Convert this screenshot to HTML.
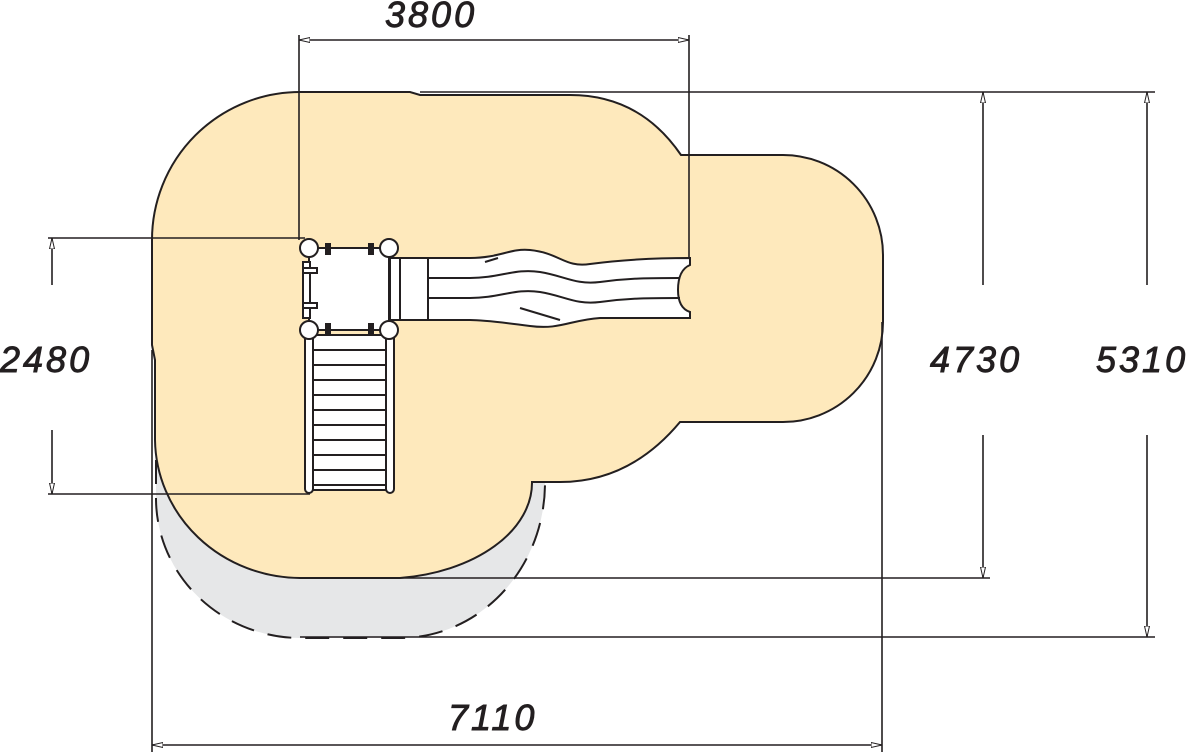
<!DOCTYPE html>
<html><head><meta charset="utf-8"><style>
html,body{margin:0;padding:0;background:#fff;}
svg{display:block;}
text{font-family:"Liberation Sans",sans-serif;font-style:italic;font-size:36px;fill:#231f20;stroke:#231f20;stroke-width:0.9;letter-spacing:3px;}
</style></head><body>
<svg width="1200" height="752" viewBox="0 0 1200 752" xmlns="http://www.w3.org/2000/svg">
<defs>
<marker id="a" markerWidth="12" markerHeight="8" refX="11" refY="4" orient="auto-start-reverse" markerUnits="userSpaceOnUse">
<path d="M0,1.5 L11,4 L0,6.5 Z" fill="#fff" stroke="#231f20" stroke-width="1"/>
</marker>
</defs>
<!-- gray zone -->
<path d="M156,455 L156,500 A145,140 0 0 0 300,638 L400,638 A145,155 0 0 0 545,482 L545,480 L156,440 Z" fill="#e6e7e8"/>
<path d="M156,460 L156,500 A145,140 0 0 0 300,638 L400,638 A145,155 0 0 0 545,482" fill="none" stroke="#231f20" stroke-width="2" stroke-dasharray="24,14"/>
<!-- main area -->
<path d="M300,92 L410,92 L420,95 L570,95 Q640,95 681,155 L782,155 A100,100 0 0 1 883,255 L883,322 A100,100 0 0 1 782,422 L680,422 Q630,482 560,482 L532,482 A150,96 0 0 1 400,578 L300,578 A146,140 0 0 1 155,440 L155,360 L152,345 L152,240 A148,148 0 0 1 300,92 Z" fill="#fee9bc" stroke="#231f20" stroke-width="2"/>
<!-- dimension lines -->
<g stroke="#231f20" stroke-width="1.6" fill="none">
<line x1="299" y1="35" x2="299" y2="240"/>
<line x1="689" y1="35" x2="689" y2="262"/>
<line x1="299" y1="40" x2="689" y2="40" marker-start="url(#a)" marker-end="url(#a)"/>
<line x1="420" y1="92" x2="1155" y2="92"/>
<line x1="400" y1="578" x2="990" y2="578"/>
<line x1="300" y1="637" x2="1155" y2="637"/>
<line x1="983" y1="92" x2="983" y2="285" marker-start="url(#a)"/>
<line x1="983" y1="435" x2="983" y2="578" marker-end="url(#a)"/>
<line x1="1147" y1="92" x2="1147" y2="285" marker-start="url(#a)"/>
<line x1="1147" y1="435" x2="1147" y2="637" marker-end="url(#a)"/>
<line x1="48" y1="238" x2="305" y2="238"/>
<line x1="48" y1="494" x2="310" y2="494"/>
<line x1="52" y1="238" x2="52" y2="285" marker-start="url(#a)"/>
<line x1="52" y1="430" x2="52" y2="494" marker-end="url(#a)"/>
<line x1="152" y1="350" x2="152" y2="752"/>
<line x1="882" y1="322" x2="882" y2="752"/>
<line x1="152" y1="745" x2="882" y2="745" marker-start="url(#a)" marker-end="url(#a)"/>
</g>
<!-- ladder -->
<g stroke="#231f20" stroke-width="2" fill="#fff">
<rect x="312" y="335" width="76" height="155"/>
<rect x="305" y="330" width="8" height="163" rx="4"/>
<rect x="386" y="330" width="8" height="163" rx="4"/>
<line x1="313" y1="350" x2="386" y2="350"/>
<line x1="313" y1="365" x2="386" y2="365"/>
<line x1="313" y1="380" x2="386" y2="380"/>
<line x1="313" y1="395" x2="386" y2="395"/>
<line x1="313" y1="410" x2="386" y2="410"/>
<line x1="313" y1="425" x2="386" y2="425"/>
<line x1="313" y1="440" x2="386" y2="440"/>
<line x1="313" y1="455" x2="386" y2="455"/>
<line x1="313" y1="470" x2="386" y2="470"/>
<line x1="313" y1="485" x2="386" y2="485"/>
</g>
<!-- slide -->
<g stroke="#231f20" stroke-width="2" fill="#fff">
<path d="M390,258 L470,258 C500,258 510,248 530,250 C560,253 565,268 590,264 C620,260 650,258 690,258 L690,265 Q678,270 678,290 Q678,308 690,312 L690,318 L600,318 C570,320 560,330 530,326 C500,322 480,320 470,320 L390,320 Z"/>
<path d="M400,278 L470,278 C500,278 515,268 540,272 C565,276 575,285 600,282 C630,278 650,278 680,278" fill="none"/>
<path d="M400,298 L470,298 C500,298 515,288 540,292 C565,296 575,305 600,302 C630,298 650,298 680,298" fill="none"/>
<rect x="390" y="258" width="38" height="62"/>
<line x1="400" y1="258" x2="400" y2="320"/>
<line x1="485" y1="262" x2="498" y2="258"/>
<line x1="520" y1="308" x2="560" y2="320"/>
</g>
<!-- platform -->
<g stroke="#231f20" stroke-width="2" fill="#fff">
<rect x="309" y="248" width="80" height="82"/>
<rect x="303" y="262" width="7" height="56"/>
<circle cx="309" cy="248" r="9"/>
<circle cx="389" cy="248" r="9"/>
<circle cx="309" cy="330" r="9"/>
<circle cx="389" cy="330" r="9"/>
<rect x="326" y="244" width="4" height="10" fill="#231f20"/>
<rect x="369" y="244" width="4" height="10" fill="#231f20"/>
<rect x="326" y="324" width="4" height="10" fill="#231f20"/>
<rect x="369" y="324" width="4" height="10" fill="#231f20"/>
<rect x="303" y="268" width="14" height="5"/>
<rect x="303" y="303" width="14" height="5"/>
</g>
<!-- labels -->
<text x="385" y="27">3800</text>
<text x="0" y="372">2480</text>
<text x="930" y="372">4730</text>
<text x="1096" y="372">5310</text>
<text x="448" y="730">7110</text>
</svg>
</body></html>
